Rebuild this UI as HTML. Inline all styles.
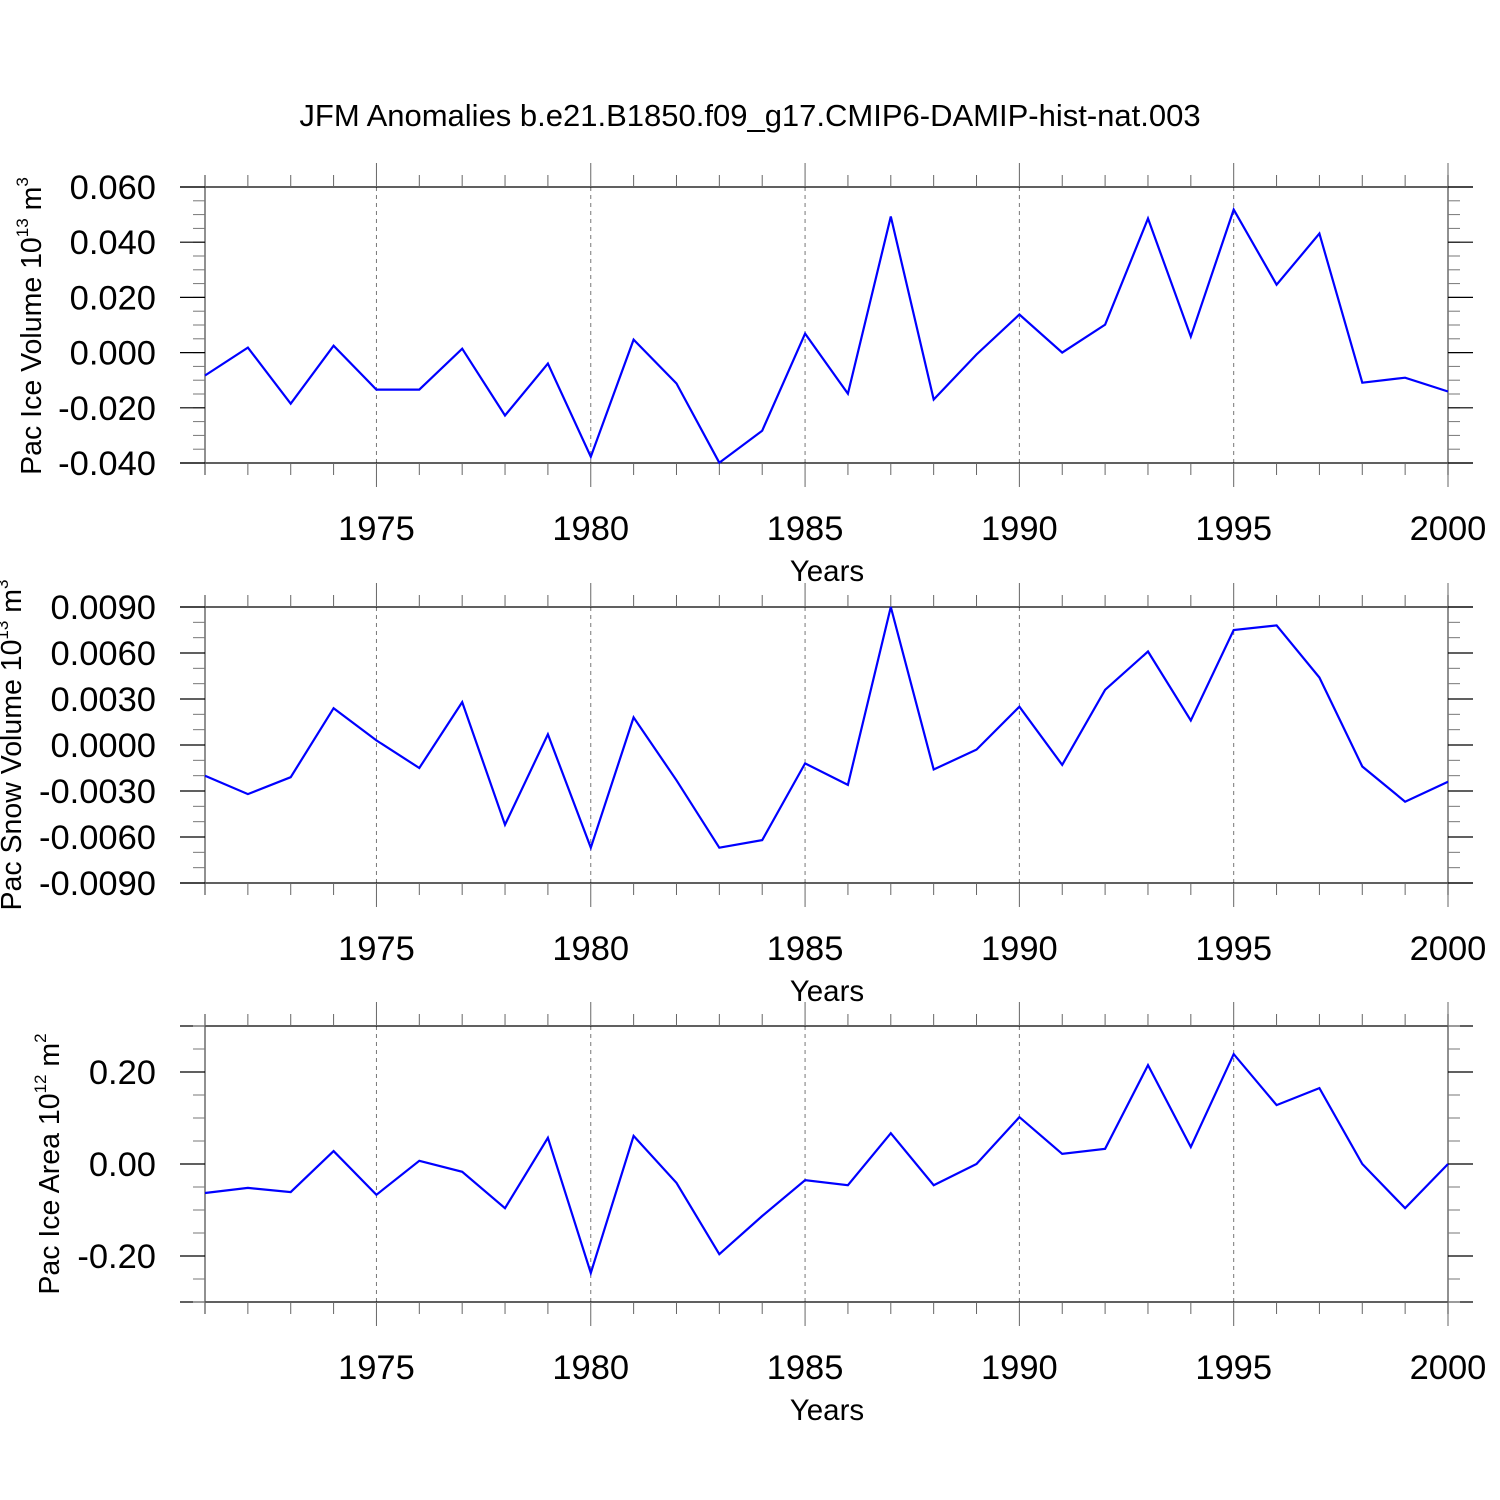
<!DOCTYPE html>
<html><head><meta charset="utf-8"><style>
body{margin:0;background:#fff}
svg{display:block;font-family:"Liberation Sans",sans-serif}
</style></head><body>
<svg id="chart" width="1500" height="1500" viewBox="0 0 1500 1500" xmlns="http://www.w3.org/2000/svg">
<rect width="1500" height="1500" fill="#fff"/>
<text x="750" y="126" font-size="31" text-anchor="middle">JFM Anomalies b.e21.B1850.f09_g17.CMIP6-DAMIP-hist-nat.003</text>
</svg>
<script>
const years = [1971,1972,1973,1974,1975,1976,1977,1978,1979,1980,1981,1982,1983,1984,1985,1986,1987,1988,1989,1990,1991,1992,1993,1994,1995,1996,1997,1998,1999,2000];
const iceVolume = [-0.0083,0.0018,-0.0185,0.0025,-0.0134,-0.0134,0.0014,-0.0228,-0.004,-0.0377,0.0047,-0.0112,-0.0399,-0.0283,0.0069,-0.0149,0.0493,-0.017,-0.0007,0.0138,0.0,0.0101,0.0486,0.0058,0.0518,0.0246,0.0431,-0.0109,-0.0091,-0.0141];
const snowVolume = [-0.0020,-0.0032,-0.0021,0.0024,0.0003,-0.0015,0.0028,-0.0052,0.0007,-0.0067,0.0018,-0.0023,-0.0067,-0.0062,-0.0012,-0.0026,0.0090,-0.0016,-0.0003,0.0025,-0.0013,0.0036,0.0061,0.0016,0.0075,0.0078,0.0044,-0.0014,-0.0037,-0.0024];
const iceArea = [-0.063,-0.052,-0.061,0.028,-0.067,0.007,-0.017,-0.096,0.057,-0.237,0.061,-0.041,-0.196,-0.113,-0.035,-0.046,0.067,-0.046,0.0,0.102,0.022,0.033,0.215,0.037,0.239,0.128,0.165,0.0,-0.096,0.0];
const xTickLabels = [1975,1980,1985,1990,1995,2000];
const iceVolTicks = ["0.060","0.040","0.020","0.000","-0.020","-0.040"];
const snowTicks = ["0.0090","0.0060","0.0030","0.0000","-0.0030","-0.0060","-0.0090"];
const areaTicks = ["0.20","0.00","-0.20"];

const svg = document.getElementById('chart');
const NS = 'http://www.w3.org/2000/svg';
function mk(tag, attrs, parent){const e=document.createElementNS(NS,tag);for(const k in attrs)e.setAttribute(k,attrs[k]);(parent||svg).appendChild(e);return e;}
const X0=205,X1=1448;
function xs(yr){return X0+(yr-1971)*(X1-X0)/29;}

function panel(name, top, ymin, ymax, minorStep, tickLabels, data, titleParts, titleX, titleY){
  const H=276, bot=top+H;
  const g=mk('g',{});
  
  
  const ys=v=>bot-(v-ymin)/(ymax-ymin)*H;
  for(const yr of [1975,1980,1985,1990,1995]){
    const l=mk('line',{x1:xs(yr),x2:xs(yr),y1:top,y2:bot,stroke:'#777','stroke-width':1,'stroke-dasharray':'4,4'},g);
    
    
  }
  mk('line',{x1:180,x2:1473,y1:top,y2:top,stroke:'#000','stroke-width':1.3},g);
  mk('line',{x1:180,x2:1473,y1:bot,y2:bot,stroke:'#000','stroke-width':1.3},g);
  mk('line',{x1:X0,x2:X0,y1:top-12,y2:bot+12,stroke:'#555','stroke-width':1.3},g);
  mk('line',{x1:X1,x2:X1,y1:top-12,y2:bot+12,stroke:'#555','stroke-width':1.3},g);
  for(const yr of years){
    const major = yr%5===0;
    const len = major?24:12;
    mk('line',{x1:xs(yr),x2:xs(yr),y1:top-len,y2:top,stroke:'#666','stroke-width':1},g);
    mk('line',{x1:xs(yr),x2:xs(yr),y1:bot,y2:bot+len,stroke:'#666','stroke-width':1},g);
  }
  const n=Math.round((ymax-ymin)/minorStep);
  for(let i=0;i<=n;i++){
    const y=ys(ymin+i*minorStep);
    mk('line',{x1:X0-12,x2:X0,y1:y,y2:y,stroke:'#777','stroke-width':1},g);
    mk('line',{x1:X1,x2:X1+12,y1:y,y2:y,stroke:'#777','stroke-width':1},g);
  }
  tickLabels.forEach(t=>{
    const y=ys(parseFloat(t));
    mk('line',{x1:180,x2:X0,y1:y,y2:y,stroke:'#000','stroke-width':1.2},g);
    mk('line',{x1:X1,x2:1473,y1:y,y2:y,stroke:'#000','stroke-width':1.2},g);
    const tx=mk('text',{x:156,y:y+12,'font-size':34.5,'text-anchor':'end'},g);
    tx.textContent=t;
    
    
  });
  xTickLabels.forEach(yr=>{
    const tx=mk('text',{x:xs(yr),y:bot+77,'font-size':34.5,'text-anchor':'middle'},g);
    tx.textContent=yr;
    
    
  });
  const xt=mk('text',{x:827,y:bot+118,'font-size':29.5,'text-anchor':'middle'},g);
  xt.textContent='Years';
  
  
  const yt=mk('text',{x:0,y:0,'font-size':28.5,'text-anchor':'middle',transform:`translate(${titleX},${titleY}) rotate(-90)`},g);
  
  
  const s1=mk('tspan',{},yt); s1.textContent=titleParts[0];
  const s2=mk('tspan',{'font-size':17,dy:-13},yt); s2.textContent=titleParts[1];
  const s3=mk('tspan',{dy:13},yt); s3.textContent=' '+titleParts[2];
  const s4=mk('tspan',{'font-size':17,dy:-13},yt); s4.textContent=titleParts[3];
  const pts=data.map((v,i)=>xs(years[i]).toFixed(1)+','+ys(v).toFixed(1)).join(' ');
  const pl=mk('polyline',{points:pts,fill:'none',stroke:'#0000ff','stroke-width':2.2,'stroke-linejoin':'miter'},g);
  
  
}
panel('ice-volume',187,-0.04,0.06,0.005,iceVolTicks,iceVolume,['Pac Ice Volume 10','13','m','3'],41,326);
panel('snow-volume',607,-0.009,0.009,0.001,snowTicks,snowVolume,['Pac Snow Volume 10','13','m','3'],21,745);
panel('ice-area',1026,-0.3,0.3,0.05,areaTicks,iceArea,['Pac Ice Area 10','12','m','2'],59,1164);
</script>
</body></html>
